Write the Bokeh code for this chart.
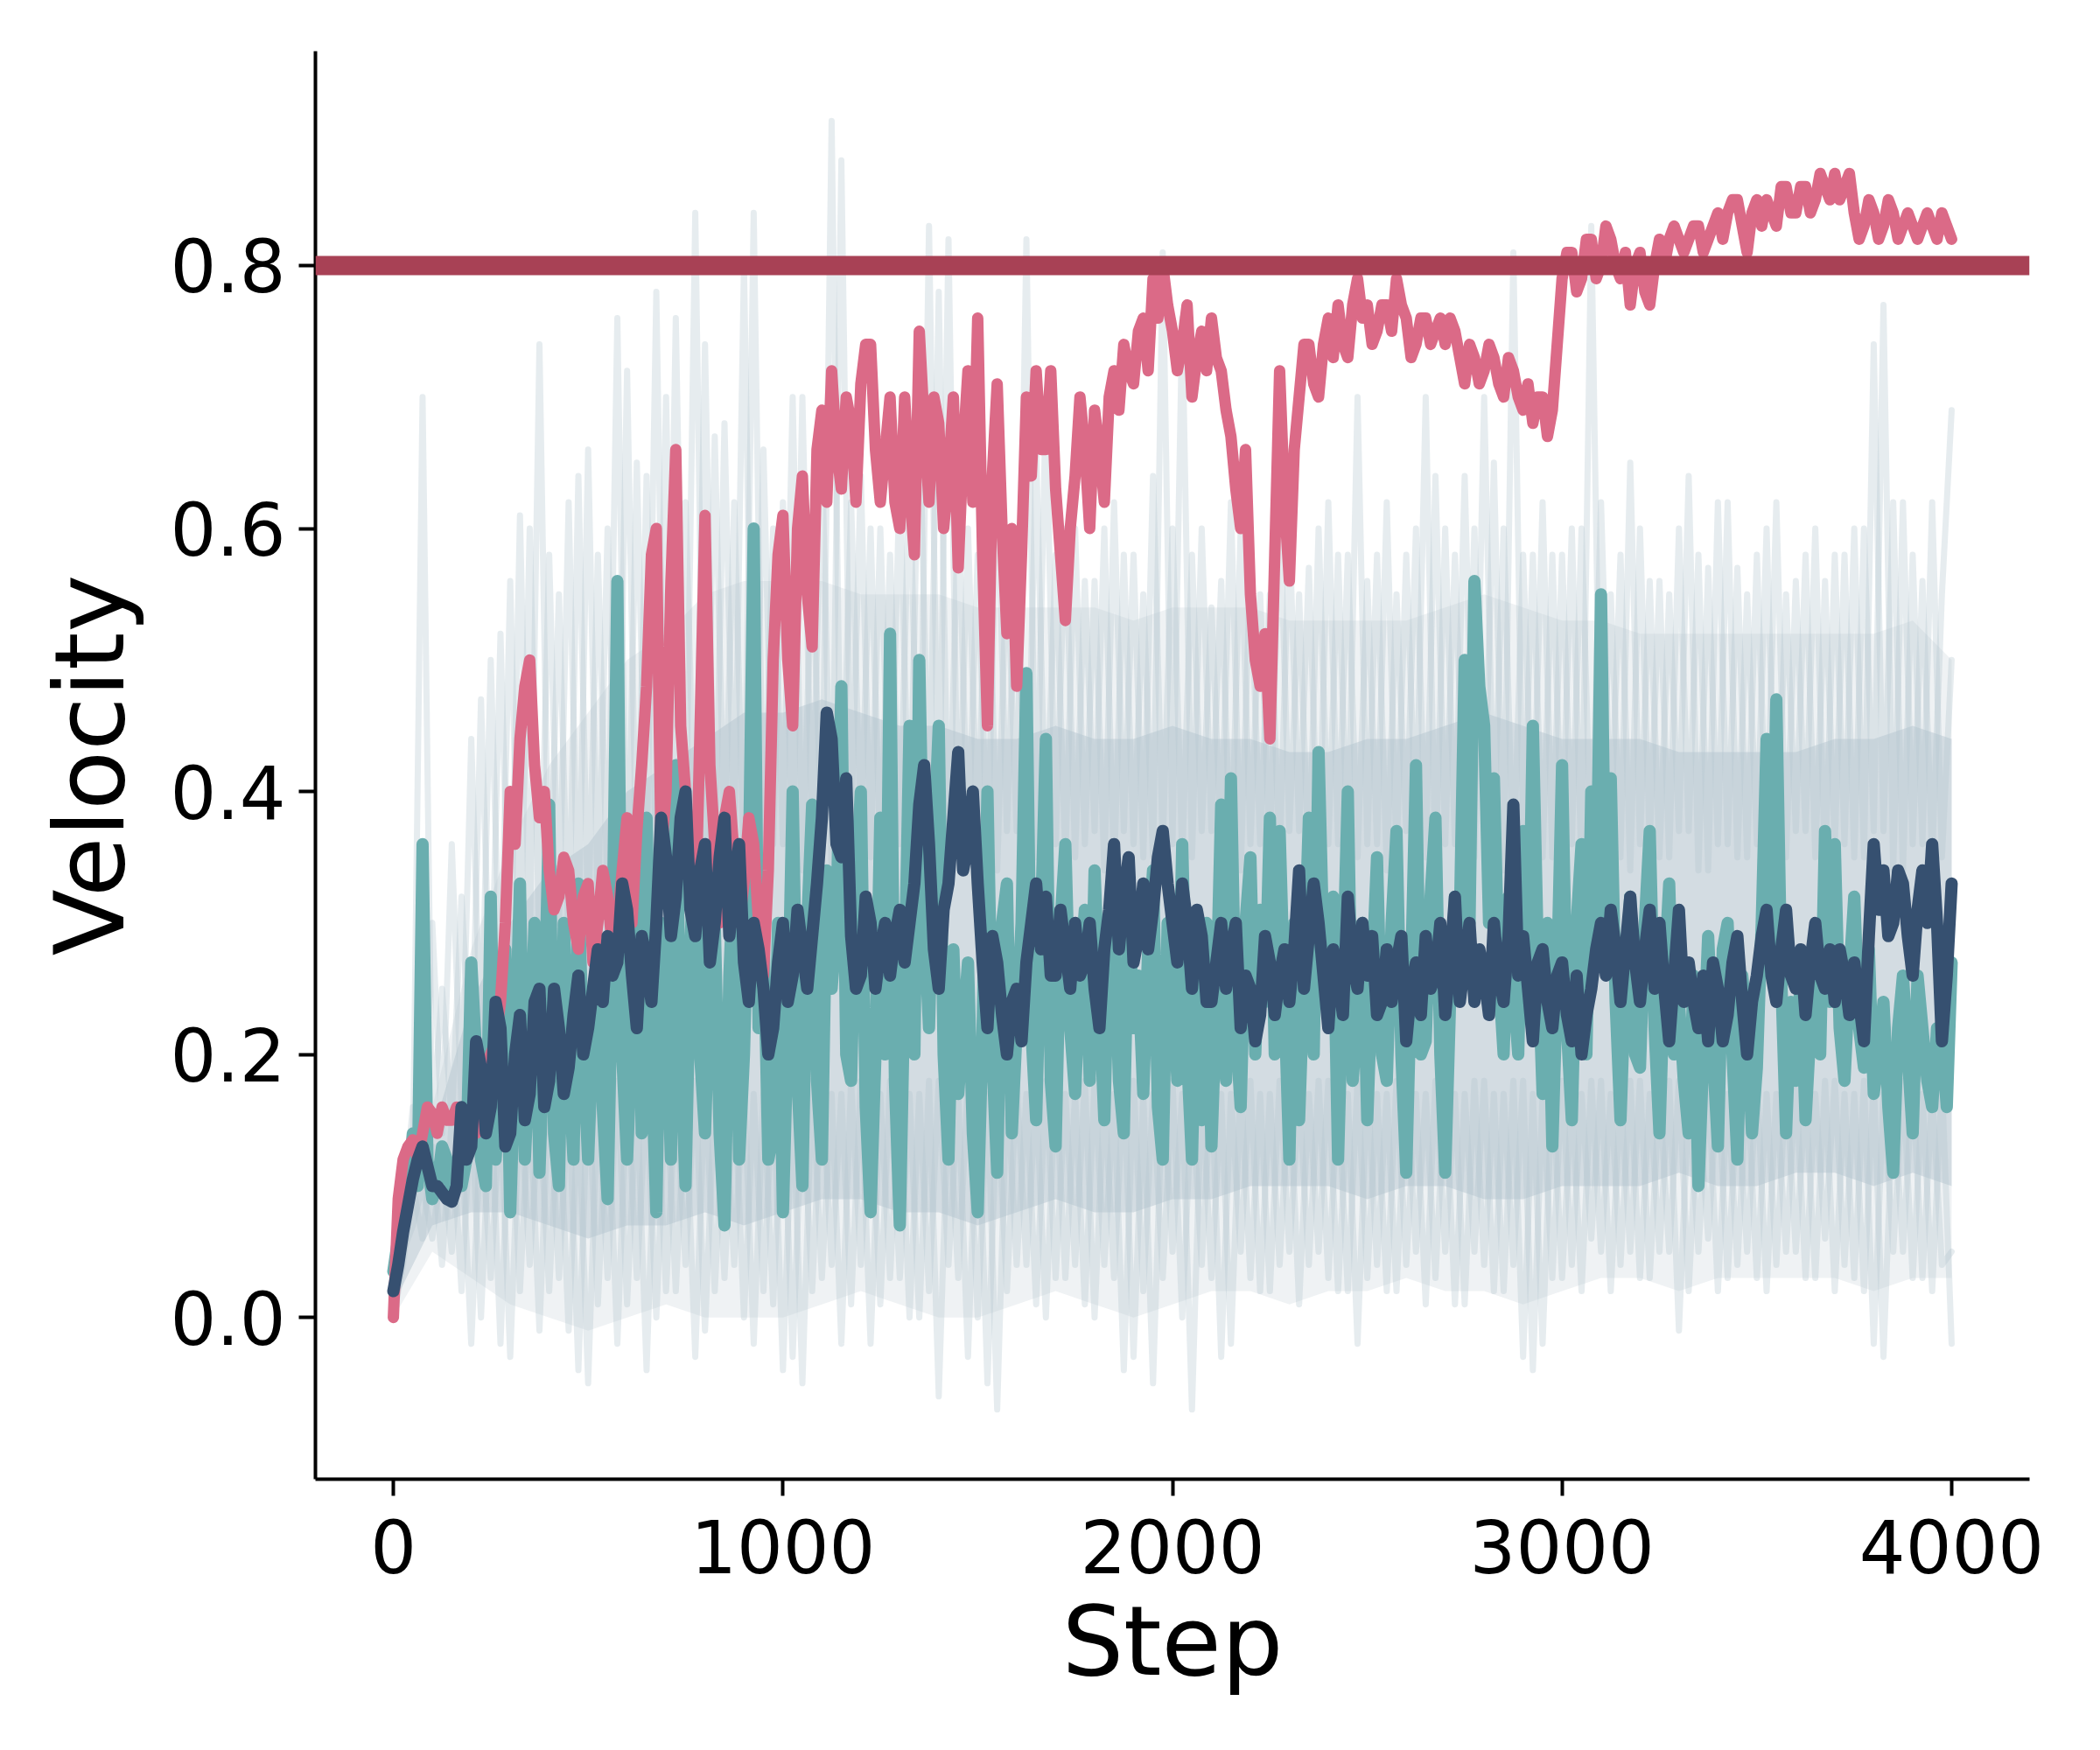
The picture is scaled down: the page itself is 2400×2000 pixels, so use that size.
from bokeh.plotting import figure
from bokeh.models import Range1d, FixedTicker, Span, NumeralTickFormatter
from bokeh.embed import file_html
from bokeh.resources import INLINE

# x grids (training steps)
steps25 = list(range(0, 4001, 25))
steps_mid = [s + 12.5 for s in steps25[:-1]]
steps100 = list(range(0, 4001, 100))

TARGET = 0.8
x_ticks = [0, 1000, 2000, 3000, 4000]
y_ticks = [0.0, 0.2, 0.4, 0.6, 0.8]

# ---- main runs, read every 25 steps ----
pink = [
    0.00, 0.12, 0.135, 0.14, 0.155, 0.16, 0.15, 0.14, 0.15, 0.17,
    0.20, 0.24, 0.40, 0.44, 0.50, 0.38, 0.34, 0.32, 0.34, 0.28,
    0.33, 0.30, 0.32, 0.30, 0.38, 0.37, 0.48, 0.60, 0.40, 0.66,
    0.40, 0.30, 0.61, 0.36, 0.38, 0.35, 0.33, 0.36, 0.26, 0.50,
    0.61, 0.45, 0.64, 0.51, 0.69, 0.72, 0.63, 0.68, 0.71, 0.74,
    0.62, 0.70, 0.60, 0.63, 0.75, 0.62, 0.68, 0.64, 0.57, 0.72,
    0.76, 0.45, 0.71, 0.52, 0.48, 0.70, 0.72, 0.66, 0.63, 0.53,
    0.64, 0.66, 0.69, 0.62, 0.72, 0.74, 0.71, 0.76, 0.79, 0.80,
    0.75, 0.74, 0.70, 0.75, 0.76, 0.72, 0.67, 0.60, 0.55, 0.48,
    0.44, 0.72, 0.56, 0.70, 0.74, 0.70, 0.76, 0.77, 0.73, 0.79,
    0.77, 0.75, 0.77, 0.79, 0.76, 0.74, 0.76, 0.75, 0.74, 0.75,
    0.71, 0.73, 0.72, 0.73, 0.70, 0.72, 0.69, 0.68, 0.70, 0.69,
    0.79, 0.81, 0.79, 0.82, 0.80, 0.82, 0.79, 0.77, 0.81, 0.77,
    0.82, 0.82, 0.82, 0.82, 0.83, 0.82, 0.84, 0.84, 0.85, 0.81,
    0.85, 0.85, 0.83, 0.86, 0.84, 0.86, 0.85, 0.86, 0.87, 0.86,
    0.84, 0.83, 0.84, 0.83, 0.84, 0.83, 0.83, 0.83, 0.83, 0.84,
    0.82,
]
# values in between (12.5, 37.5, ...)
pink_mid = [
    0.09, 0.13, 0.12, 0.16, 0.14, 0.15, 0.16, 0.15, 0.14, 0.19,
    0.21, 0.30, 0.36, 0.48, 0.42, 0.40, 0.31, 0.35, 0.30, 0.32,
    0.27, 0.34, 0.28, 0.34, 0.30, 0.42, 0.58, 0.35, 0.56, 0.45,
    0.33, 0.45, 0.42, 0.30, 0.40, 0.30, 0.38, 0.30, 0.34, 0.58,
    0.50, 0.60, 0.55, 0.66, 0.62, 0.66, 0.70, 0.62, 0.74, 0.66,
    0.66, 0.62, 0.70, 0.58, 0.68, 0.70, 0.60, 0.70, 0.66, 0.62,
    0.58, 0.64, 0.60, 0.60, 0.58, 0.64, 0.66, 0.72, 0.58, 0.60,
    0.70, 0.60, 0.66, 0.70, 0.69, 0.72, 0.75, 0.72, 0.76, 0.77,
    0.72, 0.77, 0.73, 0.72, 0.73, 0.69, 0.63, 0.66, 0.50, 0.52,
    0.58, 0.62, 0.66, 0.74, 0.71, 0.74, 0.73, 0.74, 0.77, 0.76,
    0.74, 0.77, 0.75, 0.77, 0.73, 0.76, 0.74, 0.76, 0.76, 0.73,
    0.74, 0.71, 0.74, 0.71, 0.73, 0.70, 0.71, 0.70, 0.67, 0.74,
    0.81, 0.78, 0.82, 0.79, 0.83, 0.80, 0.81, 0.80, 0.78, 0.80,
    0.80, 0.83, 0.81, 0.83, 0.81, 0.83, 0.82, 0.85, 0.83, 0.84,
    0.83, 0.84, 0.86, 0.84, 0.86, 0.84, 0.87, 0.85, 0.85, 0.87,
    0.82, 0.85, 0.82, 0.85, 0.82, 0.84, 0.82, 0.84, 0.82, 0.83,
]

navy = [
    0.02, 0.065, 0.105, 0.13, 0.10, 0.095, 0.088, 0.16, 0.13, 0.19,
    0.16, 0.22, 0.14, 0.23, 0.17, 0.25, 0.18, 0.22, 0.19, 0.26,
    0.22, 0.28, 0.29, 0.27, 0.31, 0.22, 0.27, 0.30, 0.35, 0.32,
    0.40, 0.29, 0.36, 0.30, 0.38, 0.33, 0.27, 0.30, 0.25, 0.22,
    0.30, 0.26, 0.28, 0.29, 0.38, 0.44, 0.35, 0.29, 0.26, 0.30,
    0.28, 0.26, 0.31, 0.30, 0.39, 0.36, 0.25, 0.33, 0.43, 0.36,
    0.33, 0.22, 0.27, 0.20, 0.25, 0.27, 0.33, 0.32, 0.26, 0.28,
    0.30, 0.27, 0.25, 0.28, 0.36, 0.32, 0.27, 0.33, 0.31, 0.37,
    0.30, 0.33, 0.25, 0.29, 0.24, 0.30, 0.28, 0.22, 0.25, 0.23,
    0.27, 0.26, 0.24, 0.34, 0.29, 0.30, 0.22, 0.26, 0.32, 0.25,
    0.26, 0.23, 0.28, 0.27, 0.21, 0.27, 0.29, 0.26, 0.23, 0.32,
    0.27, 0.24, 0.26, 0.30, 0.24, 0.39, 0.29, 0.21, 0.28, 0.22,
    0.27, 0.21, 0.20, 0.25, 0.30, 0.31, 0.24, 0.32, 0.24, 0.31,
    0.30, 0.21, 0.31, 0.27, 0.22, 0.21, 0.25, 0.23, 0.29, 0.20,
    0.26, 0.31, 0.24, 0.31, 0.25, 0.23, 0.30, 0.25, 0.24, 0.26,
    0.27, 0.21, 0.36, 0.34, 0.30, 0.33, 0.26, 0.34, 0.36, 0.21,
    0.33,
]
navy_mid = [
    0.04, 0.085, 0.12, 0.115, 0.10, 0.09, 0.10, 0.12, 0.21, 0.14,
    0.24, 0.13, 0.20, 0.15, 0.24, 0.16, 0.25, 0.17, 0.23, 0.20,
    0.25, 0.24, 0.26, 0.33, 0.26, 0.29, 0.24, 0.38, 0.29, 0.38,
    0.31, 0.34, 0.27, 0.35, 0.29, 0.36, 0.24, 0.28, 0.20, 0.27,
    0.24, 0.31, 0.25, 0.33, 0.46, 0.36, 0.41, 0.25, 0.32, 0.25,
    0.30, 0.29, 0.27, 0.33, 0.42, 0.28, 0.31, 0.38, 0.34, 0.40,
    0.27, 0.29, 0.23, 0.24, 0.21, 0.30, 0.28, 0.26, 0.31, 0.25,
    0.26, 0.30, 0.22, 0.31, 0.28, 0.35, 0.29, 0.28, 0.35, 0.33,
    0.27, 0.30, 0.31, 0.24, 0.27, 0.25, 0.30, 0.26, 0.21, 0.29,
    0.23, 0.28, 0.28, 0.25, 0.33, 0.26, 0.28, 0.23, 0.27, 0.30,
    0.29, 0.24, 0.24, 0.29, 0.25, 0.23, 0.25, 0.30, 0.27, 0.24,
    0.30, 0.28, 0.23, 0.26, 0.29, 0.26, 0.25, 0.27, 0.24, 0.26,
    0.23, 0.26, 0.23, 0.28, 0.26, 0.28, 0.28, 0.27, 0.28, 0.25,
    0.25, 0.26, 0.24, 0.24, 0.26, 0.27, 0.21, 0.27, 0.24, 0.24,
    0.29, 0.26, 0.28, 0.26, 0.28, 0.27, 0.26, 0.28, 0.28, 0.23,
    0.24, 0.29, 0.31, 0.29, 0.34, 0.29, 0.31, 0.30, 0.30, 0.26,
]

teal = [
    0.035, 0.08, 0.14, 0.36, 0.09, 0.13, 0.09, 0.10, 0.27, 0.12,
    0.32, 0.18, 0.08, 0.33, 0.20, 0.11, 0.39, 0.10, 0.19, 0.33,
    0.12, 0.27, 0.09, 0.56, 0.12, 0.36, 0.38, 0.08, 0.24, 0.42,
    0.10, 0.38, 0.14, 0.30, 0.07, 0.35, 0.20, 0.60, 0.30, 0.14,
    0.08, 0.40, 0.10, 0.39, 0.12, 0.25, 0.48, 0.18, 0.40, 0.08,
    0.38, 0.52, 0.07, 0.45, 0.50, 0.22, 0.45, 0.12, 0.17, 0.27,
    0.08, 0.40, 0.11, 0.33, 0.22, 0.49, 0.15, 0.44, 0.13, 0.36,
    0.17, 0.31, 0.34, 0.15, 0.30, 0.14, 0.22, 0.17, 0.34, 0.12,
    0.25, 0.36, 0.12, 0.15, 0.13, 0.39, 0.41, 0.16, 0.35, 0.31,
    0.38, 0.37, 0.12, 0.15, 0.38, 0.43, 0.24, 0.12, 0.40, 0.23,
    0.15, 0.35, 0.18, 0.37, 0.11, 0.42, 0.21, 0.38, 0.11, 0.32,
    0.50, 0.56, 0.45, 0.41, 0.20, 0.25, 0.37, 0.45, 0.17, 0.13,
    0.42, 0.15, 0.36, 0.40, 0.55, 0.41, 0.15, 0.32, 0.19, 0.37,
    0.14, 0.33, 0.24, 0.14, 0.10, 0.29, 0.13, 0.30, 0.12, 0.22,
    0.19, 0.44, 0.47, 0.14, 0.18, 0.15, 0.28, 0.37, 0.36, 0.18,
    0.32, 0.19, 0.17, 0.24, 0.11, 0.26, 0.14, 0.22, 0.16, 0.21,
    0.27,
]
teal_mid = [
    0.06, 0.10, 0.10, 0.12, 0.10, 0.12, 0.11, 0.12, 0.20, 0.10,
    0.12, 0.28, 0.20, 0.12, 0.30, 0.22, 0.14, 0.30, 0.12, 0.20,
    0.22, 0.16, 0.28, 0.20, 0.22, 0.14, 0.20, 0.30, 0.12, 0.20,
    0.28, 0.20, 0.26, 0.14, 0.26, 0.12, 0.34, 0.22, 0.12, 0.30,
    0.22, 0.18, 0.30, 0.18, 0.34, 0.30, 0.20, 0.33, 0.16, 0.20,
    0.20, 0.18, 0.26, 0.20, 0.30, 0.36, 0.20, 0.28, 0.22, 0.14,
    0.22, 0.20, 0.30, 0.14, 0.30, 0.22, 0.30, 0.18, 0.30, 0.22,
    0.26, 0.18, 0.24, 0.30, 0.18, 0.32, 0.26, 0.28, 0.16, 0.30,
    0.18, 0.20, 0.28, 0.30, 0.24, 0.18, 0.22, 0.30, 0.20, 0.24,
    0.20, 0.24, 0.30, 0.26, 0.20, 0.28, 0.32, 0.26, 0.18, 0.30,
    0.26, 0.20, 0.30, 0.20, 0.26, 0.20, 0.32, 0.20, 0.24, 0.30,
    0.30, 0.48, 0.30, 0.26, 0.32, 0.20, 0.24, 0.28, 0.30, 0.26,
    0.22, 0.30, 0.20, 0.30, 0.28, 0.24, 0.26, 0.20, 0.30, 0.22,
    0.26, 0.20, 0.18, 0.26, 0.20, 0.20, 0.28, 0.20, 0.26, 0.14,
    0.30, 0.28, 0.26, 0.24, 0.26, 0.22, 0.20, 0.24, 0.22, 0.26,
    0.22, 0.28, 0.20, 0.16, 0.22, 0.20, 0.26, 0.18, 0.22, 0.16,
]

# ---- faint background runs, every 25 steps ----
gray_hi = [
    0.03, 0.10, 0.12, 0.70, 0.14, 0.25, 0.15, 0.32, 0.18, 0.47,
    0.22, 0.52, 0.25, 0.61, 0.28, 0.74, 0.30, 0.55, 0.28, 0.64,
    0.30, 0.58, 0.32, 0.76, 0.30, 0.65, 0.34, 0.78, 0.32, 0.76,
    0.35, 0.84, 0.33, 0.67, 0.36, 0.62, 0.34, 0.84, 0.35, 0.60,
    0.36, 0.70, 0.34, 0.58, 0.36, 0.91, 0.35, 0.62, 0.37, 0.60,
    0.35, 0.58, 0.36, 0.65, 0.34, 0.83, 0.36, 0.82, 0.35, 0.60,
    0.36, 0.62, 0.34, 0.58, 0.37, 0.82, 0.35, 0.70, 0.36, 0.60,
    0.35, 0.56, 0.37, 0.60, 0.34, 0.58, 0.36, 0.55, 0.35, 0.81,
    0.36, 0.76, 0.35, 0.60, 0.37, 0.56, 0.34, 0.60, 0.36, 0.55,
    0.35, 0.62, 0.37, 0.55, 0.34, 0.60, 0.36, 0.58, 0.35, 0.70,
    0.36, 0.58, 0.34, 0.55, 0.37, 0.60, 0.35, 0.64, 0.36, 0.58,
    0.35, 0.60, 0.37, 0.65, 0.34, 0.81, 0.36, 0.58, 0.35, 0.58,
    0.36, 0.60, 0.34, 0.83, 0.37, 0.55, 0.35, 0.65, 0.36, 0.56,
    0.35, 0.55, 0.37, 0.64, 0.34, 0.57, 0.36, 0.62, 0.35, 0.55,
    0.36, 0.60, 0.34, 0.55, 0.37, 0.58, 0.35, 0.56, 0.36, 0.58,
    0.35, 0.60, 0.37, 0.77, 0.34, 0.62, 0.36, 0.56, 0.35, 0.55,
    0.69,
]
gray_hi2 = [
    0.04, 0.08, 0.16, 0.10, 0.30, 0.14, 0.36, 0.16, 0.44, 0.20,
    0.50, 0.24, 0.56, 0.26, 0.60, 0.28, 0.58, 0.30, 0.62, 0.29,
    0.66, 0.31, 0.60, 0.33, 0.72, 0.32, 0.64, 0.34, 0.70, 0.33,
    0.62, 0.35, 0.74, 0.34, 0.68, 0.36, 0.80, 0.35, 0.66, 0.36,
    0.62, 0.35, 0.70, 0.36, 0.66, 0.34, 0.88, 0.37, 0.64, 0.35,
    0.60, 0.36, 0.64, 0.35, 0.70, 0.37, 0.78, 0.34, 0.62, 0.36,
    0.58, 0.35, 0.64, 0.37, 0.60, 0.34, 0.66, 0.36, 0.58, 0.35,
    0.60, 0.36, 0.56, 0.34, 0.62, 0.37, 0.58, 0.35, 0.64, 0.36,
    0.60, 0.35, 0.58, 0.37, 0.54, 0.36, 0.62, 0.34, 0.57, 0.36,
    0.55, 0.35, 0.60, 0.37, 0.57, 0.34, 0.62, 0.36, 0.58, 0.35,
    0.56, 0.36, 0.62, 0.35, 0.58, 0.37, 0.70, 0.34, 0.60, 0.36,
    0.64, 0.35, 0.70, 0.37, 0.60, 0.34, 0.58, 0.36, 0.62, 0.35,
    0.58, 0.36, 0.60, 0.35, 0.62, 0.37, 0.58, 0.34, 0.60, 0.36,
    0.56, 0.35, 0.60, 0.37, 0.58, 0.34, 0.62, 0.36, 0.57, 0.35,
    0.58, 0.36, 0.62, 0.35, 0.56, 0.37, 0.60, 0.34, 0.58, 0.36,
    0.60, 0.35, 0.74, 0.37, 0.62, 0.34, 0.58, 0.36, 0.62, 0.35,
    0.50,
]
gray_lo = [
    0.00, 0.05, 0.07, 0.10, 0.06, 0.12, 0.05, 0.14, -0.02, 0.15,
    0.03, 0.16, -0.03, 0.17, 0.04, 0.16, 0.02, 0.17, -0.01, 0.16,
    -0.05, 0.17, 0.03, 0.18, 0.01, 0.17, -0.04, 0.18, 0.02, 0.17,
    0.04, 0.18, -0.01, 0.17, 0.03, 0.18, 0.00, 0.17, 0.02, 0.18,
    -0.04, 0.17, -0.05, 0.18, 0.03, 0.17, -0.02, 0.18, 0.04, 0.17,
    0.01, 0.18, 0.03, 0.17, 0.00, 0.18, -0.06, 0.17, 0.03, 0.18,
    0.00, 0.17, -0.07, 0.18, 0.04, 0.17, 0.01, 0.18, 0.03, 0.17,
    0.04, 0.18, 0.00, 0.17, 0.03, 0.18, -0.03, 0.17, -0.05, 0.18,
    0.05, 0.17, -0.07, 0.18, 0.03, 0.17, -0.02, 0.18, 0.03, 0.17,
    0.02, 0.18, 0.05, 0.17, 0.04, 0.18, 0.03, 0.17, 0.02, 0.18,
    0.03, 0.17, 0.02, 0.18, 0.04, 0.17, 0.01, 0.18, 0.05, 0.17,
    0.01, 0.18, 0.04, 0.17, 0.02, 0.18, -0.03, 0.17, -0.02, 0.18,
    0.03, 0.17, 0.02, 0.18, 0.05, 0.17, 0.04, 0.18, 0.03, 0.17,
    0.05, 0.18, -0.01, 0.17, 0.05, 0.18, 0.02, 0.17, 0.04, 0.18,
    0.03, 0.17, 0.04, 0.18, 0.05, 0.17, 0.03, 0.18, 0.02, 0.17,
    0.03, 0.18, -0.02, 0.17, 0.05, 0.18, 0.03, 0.17, 0.02, 0.18,
    -0.02,
]
gray_lo2 = [
    0.00, 0.04, 0.10, 0.06, 0.13, 0.04, 0.15, 0.02, 0.16, 0.00,
    0.17, -0.02, 0.18, 0.02, 0.17, -0.01, 0.18, 0.03, 0.17, -0.04,
    0.18, 0.01, 0.17, -0.02, 0.18, 0.03, 0.17, 0.00, 0.18, 0.02,
    0.17, -0.03, 0.18, 0.02, 0.17, 0.04, 0.18, -0.02, 0.17, 0.01,
    0.18, -0.03, 0.17, 0.02, 0.18, 0.04, 0.17, 0.01, 0.18, -0.02,
    0.17, 0.03, 0.18, 0.00, 0.17, 0.02, 0.18, 0.04, 0.17, -0.03,
    0.18, -0.05, 0.17, 0.02, 0.18, 0.04, 0.17, 0.00, 0.18, 0.03,
    0.17, 0.01, 0.18, 0.04, 0.17, -0.04, 0.18, 0.02, 0.17, 0.03,
    0.18, 0.00, 0.17, 0.04, 0.18, -0.03, 0.17, 0.05, 0.18, 0.02,
    0.17, 0.04, 0.18, 0.01, 0.17, 0.05, 0.18, 0.02, 0.17, -0.02,
    0.18, 0.04, 0.17, 0.02, 0.18, 0.05, 0.17, 0.03, 0.18, 0.01,
    0.17, 0.05, 0.18, 0.02, 0.17, 0.04, 0.18, -0.04, 0.17, 0.03,
    0.18, 0.04, 0.17, 0.06, 0.18, 0.02, 0.17, 0.05, 0.18, 0.03,
    0.17, 0.05, 0.18, 0.02, 0.17, 0.06, 0.18, 0.03, 0.17, 0.05,
    0.18, 0.02, 0.17, 0.05, 0.18, 0.03, 0.17, 0.06, 0.18, 0.04,
    0.17, 0.02, 0.18, -0.03, 0.17, 0.05, 0.18, 0.03, 0.17, 0.04,
    0.05,
]

# envelope of the bundle of faint runs (every 100 steps)
outer_lo = [0.00, 0.05, 0.03, 0.01, 0.00, -0.01, 0.00, 0.01, 0.00, 0.00,
            0.00, 0.01, 0.02, 0.01, 0.00, 0.00, 0.01, 0.02, 0.01, 0.00,
            0.01, 0.02, 0.02, 0.01, 0.02, 0.02, 0.03, 0.02, 0.02, 0.01,
            0.02, 0.03, 0.03, 0.02, 0.03, 0.03, 0.03, 0.03, 0.02, 0.03,
            0.03]
outer_hi = [0.06, 0.16, 0.28, 0.36, 0.42, 0.46, 0.50, 0.52, 0.55, 0.56,
            0.56, 0.56, 0.55, 0.55, 0.55, 0.54, 0.54, 0.54, 0.54, 0.53,
            0.54, 0.54, 0.54, 0.53, 0.53, 0.53, 0.53, 0.54, 0.55, 0.54,
            0.53, 0.53, 0.52, 0.52, 0.52, 0.52, 0.52, 0.52, 0.52, 0.53,
            0.50]
inner_lo = [0.01, 0.07, 0.08, 0.08, 0.07, 0.06, 0.07, 0.07, 0.08, 0.07,
            0.08, 0.09, 0.09, 0.08, 0.08, 0.07, 0.08, 0.09, 0.08, 0.08,
            0.09, 0.09, 0.10, 0.10, 0.10, 0.09, 0.10, 0.10, 0.09, 0.09,
            0.10, 0.10, 0.10, 0.11, 0.10, 0.10, 0.11, 0.11, 0.10, 0.11,
            0.10]
inner_hi = [0.05, 0.14, 0.24, 0.30, 0.34, 0.36, 0.40, 0.42, 0.44, 0.46,
            0.46, 0.47, 0.46, 0.45, 0.45, 0.44, 0.44, 0.45, 0.44, 0.44,
            0.45, 0.44, 0.44, 0.43, 0.43, 0.44, 0.44, 0.45, 0.46, 0.45,
            0.44, 0.44, 0.44, 0.43, 0.43, 0.43, 0.43, 0.44, 0.44, 0.45,
            0.44]

for arr in (pink, navy, teal, gray_hi, gray_hi2, gray_lo, gray_lo2):
    assert len(arr) == len(steps25), len(arr)
for arr in (pink_mid, navy_mid, teal_mid):
    assert len(arr) == len(steps_mid), len(arr)
for arr in (outer_lo, outer_hi, inner_lo, inner_hi):
    assert len(arr) == len(steps100), len(arr)


def merge(main, mid):
    xs, ys = [], []
    for i in range(len(mid)):
        xs += [steps25[i], steps_mid[i]]
        ys += [main[i], mid[i]]
    xs.append(steps25[-1])
    ys.append(main[-1])
    return xs, ys


FONT = "DejaVu Sans"

p = figure(
    output_backend="svg", toolbar_location=None,
    frame_width=1959, frame_height=1632,
    x_range=Range1d(-200, 4200), y_range=Range1d(-0.123, 0.963),
    min_border_left=360, min_border_right=65,
    min_border_top=58, min_border_bottom=294,
)
p.outline_line_color = None
p.grid.visible = False
p.background_fill_color = "white"
p.border_fill_color = "white"

p.varea(x=steps100, y1=outer_lo, y2=outer_hi, fill_color="#dfe6ea", fill_alpha=0.5)
p.varea(x=steps100, y1=inner_lo, y2=inner_hi, fill_color="#bccbd3", fill_alpha=0.55)
for g in (gray_lo, gray_lo2, gray_hi, gray_hi2):
    p.line(steps25, g, line_color="#b4c5ce", line_alpha=0.33, line_width=7,
           line_join="round", line_cap="round")

tx, ty = merge(teal, teal_mid)
px, py = merge(pink, pink_mid)
nx, ny = merge(navy, navy_mid)
p.line(tx, ty, line_color="#6aaeaf", line_width=14, line_join="round", line_cap="round")
p.line(px, py, line_color="#db6a87", line_width=13, line_join="round", line_cap="round")
p.line(nx, ny, line_color="#365070", line_width=14, line_join="round", line_cap="round")

p.add_layout(Span(location=TARGET, dimension="width", line_color="#a84155", line_width=22))

for ax in (p.xaxis[0], p.yaxis[0]):
    ax.axis_line_width = 4
    ax.axis_line_color = "black"
    ax.major_tick_line_width = 4
    ax.major_tick_line_color = "black"
    ax.major_tick_out = 19
    ax.major_tick_in = 0
    ax.minor_tick_line_color = None
    ax.major_label_text_font = FONT
    ax.major_label_text_font_size = "83px"
    ax.major_label_text_color = "black"
    ax.axis_label_text_font = FONT
    ax.axis_label_text_font_size = "111px"
    ax.axis_label_text_font_style = "normal"
    ax.axis_label_text_color = "black"

p.xaxis.ticker = FixedTicker(ticks=x_ticks)
p.yaxis.ticker = FixedTicker(ticks=y_ticks)
p.yaxis.formatter = NumeralTickFormatter(format="0.0")
p.xaxis.axis_label = "Step"
p.yaxis.axis_label = "Velocity"
p.xaxis.major_label_standoff = 26
p.yaxis.major_label_standoff = 15
p.xaxis.axis_label_standoff = 10
p.yaxis.axis_label_standoff = 25

open("out.html", "w").write(file_html(p, INLINE))
